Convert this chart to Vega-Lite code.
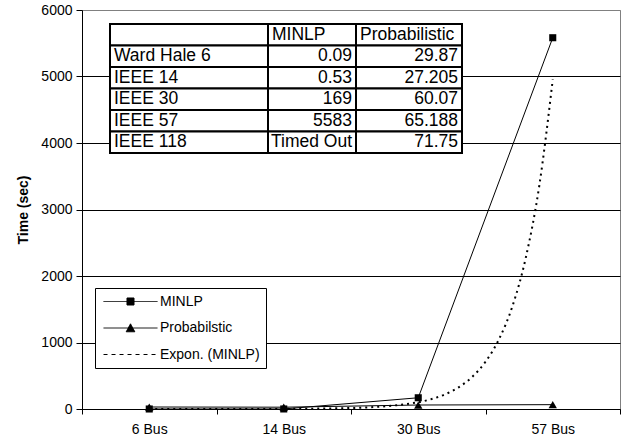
{
  "$schema": "https://vega.github.io/schema/vega-lite/v6.json",
  "width": 538,
  "height": 399,
  "autosize": {"type": "none"},
  "padding": {"left": 82, "top": 10, "right": 4, "bottom": 32},
  "background": "white",
  "config": {
    "view": {"stroke": "#808080", "strokeWidth": 1},
    "font": "Liberation Sans",
    "axis": {
      "labelFont": "Liberation Sans",
      "labelFontSize": 14,
      "labelColor": "black",
      "tickColor": "black",
      "domainColor": "black",
      "titleFont": "Liberation Sans",
      "titleFontSize": 14,
      "titleFontWeight": "bold",
      "titleColor": "black"
    }
  },
  "datasets": {
    "times": [
      {"bus": "6 Bus", "series": "MINLP", "time": 0.09},
      {"bus": "14 Bus", "series": "MINLP", "time": 0.53},
      {"bus": "30 Bus", "series": "MINLP", "time": 169},
      {"bus": "57 Bus", "series": "MINLP", "time": 5583},
      {"bus": "6 Bus", "series": "Probabilstic", "time": 29.87},
      {"bus": "14 Bus", "series": "Probabilstic", "time": 27.205},
      {"bus": "30 Bus", "series": "Probabilstic", "time": 60.07},
      {"bus": "57 Bus", "series": "Probabilstic", "time": 65.188}
    ],
    "trend": [
      {"t": 1, "series": "Expon. (MINLP)", "time": 0.04},
      {"t": 1.5, "series": "Expon. (MINLP)", "time": 0.3},
      {"t": 2, "series": "Expon. (MINLP)", "time": 2.1},
      {"t": 2.5, "series": "Expon. (MINLP)", "time": 15},
      {"t": 3, "series": "Expon. (MINLP)", "time": 102},
      {"t": 3.1, "series": "Expon. (MINLP)", "time": 150},
      {"t": 3.2, "series": "Expon. (MINLP)", "time": 221},
      {"t": 3.3, "series": "Expon. (MINLP)", "time": 326},
      {"t": 3.4, "series": "Expon. (MINLP)", "time": 481},
      {"t": 3.5, "series": "Expon. (MINLP)", "time": 710},
      {"t": 3.6, "series": "Expon. (MINLP)", "time": 1048},
      {"t": 3.7, "series": "Expon. (MINLP)", "time": 1544},
      {"t": 3.8, "series": "Expon. (MINLP)", "time": 2279},
      {"t": 3.9, "series": "Expon. (MINLP)", "time": 3360},
      {"t": 4, "series": "Expon. (MINLP)", "time": 4955}
    ],
    "table": [
      {"row": 0, "col": 0, "text": ""},
      {"row": 0, "col": 1, "text": "MINLP"},
      {"row": 0, "col": 2, "text": "Probabilistic"},
      {"row": 1, "col": 0, "text": "Ward Hale 6"},
      {"row": 1, "col": 1, "text": "0.09"},
      {"row": 1, "col": 2, "text": "29.87"},
      {"row": 2, "col": 0, "text": "IEEE 14"},
      {"row": 2, "col": 1, "text": "0.53"},
      {"row": 2, "col": 2, "text": "27.205"},
      {"row": 3, "col": 0, "text": "IEEE 30"},
      {"row": 3, "col": 1, "text": "169"},
      {"row": 3, "col": 2, "text": "60.07"},
      {"row": 4, "col": 0, "text": "IEEE 57"},
      {"row": 4, "col": 1, "text": "5583"},
      {"row": 4, "col": 2, "text": "65.188"},
      {"row": 5, "col": 0, "text": "IEEE 118"},
      {"row": 5, "col": 1, "text": "Timed Out"},
      {"row": 5, "col": 2, "text": "71.75"}
    ]
  },
  "layer": [
    {
      "layer": [
        {
          "layer": [
            {
              "data": {"name": "times"},
              "mark": {"type": "line", "color": "black", "strokeWidth": 1},
              "encoding": {
                "x": {
                  "field": "bus", "type": "nominal", "bandPosition": 0.5,
                  "sort": ["6 Bus", "14 Bus", "30 Bus", "57 Bus"],
                  "scale": {"type": "band", "paddingInner": 0, "paddingOuter": 0},
                  "axis": {"title": null, "tickBand": "extent", "grid": false, "labelAngle": 0, "tickSize": 5, "labelPadding": 8}
                },
                "y": {
                  "field": "time", "type": "quantitative",
                  "scale": {"domain": [0, 6000], "nice": false},
                  "axis": {
                    "title": "Time (sec)",
                    "values": [0, 1000, 2000, 3000, 4000, 5000, 6000],
                    "format": "d",
                    "grid": true,
                    "gridColor": {"condition": {"test": "datum.value === 6000", "value": "#808080"}, "value": "black"},
                    "tickSize": 6, "labelPadding": 4, "titlePadding": 10
                  }
                },
                "color": {
                  "field": "series", "type": "nominal",
                  "scale": {"domain": ["MINLP", "Probabilstic", "Expon. (MINLP)"], "range": ["black", "black", "black"]},
                  "legend": {
                    "orient": "none", "legendX": 13, "legendY": 278, "title": null,
                    "padding": 6, "strokeColor": "black", "fillColor": "white",
                    "labelFont": "Liberation Sans", "labelFontSize": 14, "labelColor": "black",
                    "symbolSize": 182, "rowPadding": 11.5, "symbolOffset": 22, "labelOffset": 22,
                    "symbolStrokeWidth": 1,
                    "encode": {
                      "symbols": {
                        "update": {
                          "shape": {"signal": "datum.value === 'MINLP' ? 'M-4,0H4M-0.52,-0.52H0.52V0.52H-0.52Z' : (datum.value === 'Probabilstic' ? 'M-4,0H4M0,-0.62L0.64,0.56H-0.64Z' : 'M-4,0H4')"},
                          "strokeDash": {"signal": "datum.value === 'Expon. (MINLP)' ? [4, 4] : [1, 0]"},
                          "fill": {"value": "black"},
                          "stroke": {"value": "black"},
                          "size": {"value": 182}
                        }
                      }
                    }
                  }
                }
              }
            },
            {
              "data": {"name": "times"},
              "mark": {"type": "point", "filled": true, "color": "black", "opacity": 1},
              "encoding": {
                "x": {
                  "field": "bus", "type": "nominal", "bandPosition": 0.5,
                  "sort": ["6 Bus", "14 Bus", "30 Bus", "57 Bus"],
                  "scale": {"type": "band", "paddingInner": 0, "paddingOuter": 0}
                },
                "y": {"field": "time", "type": "quantitative"},
                "shape": {"field": "series", "type": "nominal", "scale": {"domain": ["MINLP", "Probabilstic"], "range": ["square", "triangle-up"]}, "legend": null},
                "size": {"field": "series", "type": "nominal", "scale": {"domain": ["MINLP", "Probabilstic"], "range": [50, 70]}, "legend": null}
              }
            }
          ]
        },
        {
          "data": {"name": "trend"},
          "mark": {"type": "line", "strokeDash": [2, 4], "strokeWidth": 2, "interpolate": "monotone"},
          "encoding": {
            "x": {"field": "t", "type": "quantitative", "scale": {"domain": [0.5, 4.5], "nice": false, "zero": false}, "axis": null},
            "y": {"field": "time", "type": "quantitative"},
            "color": {"field": "series", "type": "nominal"}
          }
        }
      ],
      "resolve": {"scale": {"x": "independent"}}
    },
    {
      "data": {"name": "table"},
      "transform": [{"calculate": "datum.col + 1", "as": "colEnd"}],
      "encoding": {
        "y": {"field": "row", "type": "ordinal", "scale": {"type": "band", "domain": [0, 1, 2, 3, 4, 5], "range": [14, 143], "paddingInner": 0, "paddingOuter": 0}, "axis": null}
      },
      "layer": [
        {
          "mark": {"type": "rect", "fill": "white", "stroke": "black", "strokeWidth": 2},
          "encoding": {
            "x": {"field": "col", "type": "quantitative", "scale": {"domain": [0, 1, 2, 3], "range": [28, 186, 274, 380], "nice": false, "zero": false}, "axis": null},
            "x2": {"field": "colEnd"}
          }
        },
        {
          "transform": [{"filter": "datum.col === 0 || datum.row === 0"}],
          "mark": {"type": "text", "align": "left", "baseline": "middle", "dx": 4, "font": "Liberation Sans", "fontSize": 17.5, "color": "black"},
          "encoding": {
            "x": {"field": "col", "type": "quantitative"},
            "text": {"field": "text"}
          }
        },
        {
          "transform": [{"filter": "datum.col > 0 && datum.row > 0"}],
          "mark": {"type": "text", "align": "right", "baseline": "middle", "dx": -4, "font": "Liberation Sans", "fontSize": 17.5, "color": "black"},
          "encoding": {
            "x": {"field": "colEnd", "type": "quantitative"},
            "text": {"field": "text"}
          }
        }
      ]
    }
  ],
  "resolve": {"scale": {"x": "independent", "y": "independent"}}
}
